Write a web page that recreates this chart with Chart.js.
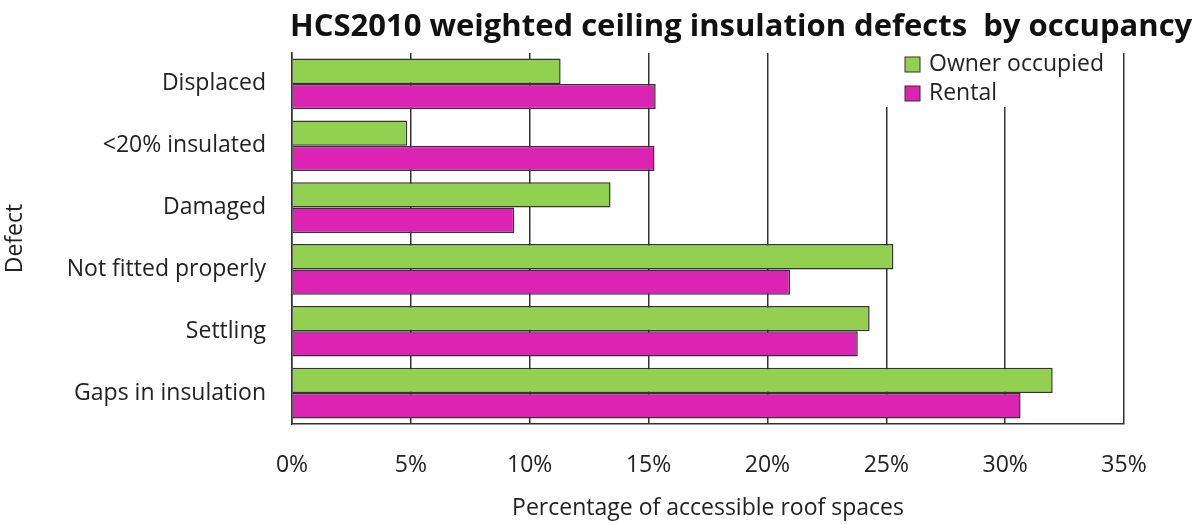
<!DOCTYPE html>
<html>
<head>
<meta charset="utf-8">
<script src="https://cdn.jsdelivr.net/npm/chart.js@4"></script>
<style>
  html, body { margin: 0; padding: 0; background: #fff; }
  #wrap { width: 1200px; height: 524px; }
</style>
</head>
<body>
<div id="wrap"><canvas id="defects-chart" width="1200" height="524"></canvas></div>
<script>
// Ceiling insulation defects, weighted, split by occupancy

const defects = ["Displaced", "<20% insulated", "Damaged", "Not fitted properly", "Settling", "Gaps in insulation"];
const ownerOccupied = [11.3, 4.85, 13.4, 25.3, 24.3, 32.0];
const rental = [15.3, 15.25, 9.35, 20.95, 23.8, 30.65];
const percentTicks = [0, 5, 10, 15, 20, 25, 30, 35];

const FONT = "'Open Sans', Lato, sans-serif";
const INK = "#222";
const LINE = "#333";

// Title drawn over the plot, right of the category labels
const titlePlugin = {
    id: "plotTitle",
    afterDraw(chart) {
        const c = chart.ctx;
        c.save();
        c.font = "bold 31px " + FONT;
        c.fillStyle = "#111";
        c.textBaseline = "middle";
        c.textAlign = "left";
        c.fillText("HCS2010 weighted ceiling insulation defects  by occupancy", 290, 27);
        c.restore();
    }
};

// Legend sits inside the plot at the top right, on a white patch
const boxLegend = {
    id: "boxLegend",
    afterDraw(chart) {
        const c = chart.ctx;
        const area = chart.chartArea;
        c.save();
        c.fillStyle = "#fff";
        c.fillRect(878, area.top - 2, 240, 56);
        c.font = "23px " + FONT;
        c.textBaseline = "middle";
        c.textAlign = "left";
        chart.data.datasets.forEach((ds, i) => {
            const y = 64 + i * 29;
            c.fillStyle = ds.backgroundColor;
            c.fillRect(905, y - 7, 15, 15);
            c.strokeStyle = LINE;
            c.lineWidth = 1;
            c.strokeRect(905, y - 7, 15, 15);
            c.fillStyle = INK;
            c.fillText(ds.label, 929, y);
        });
        c.restore();
    }
};

new Chart(document.getElementById("defects-chart"), {
    type: "bar",
    data: {
        labels: defects,
        datasets: [
            {
                label: "Owner occupied",
                data: ownerOccupied,
                backgroundColor: "#92d050",
                borderColor: LINE,
                borderWidth: 1.5,
                categoryPercentage: 0.82,
                barPercentage: 1.0,
            },
            {
                label: "Rental",
                data: rental,
                backgroundColor: "#dc23b3",
                borderColor: LINE,
                borderWidth: 1.5,
                categoryPercentage: 0.82,
                barPercentage: 1.0,
            },
        ],
    },
    options: {
        indexAxis: "y",
        responsive: false,
        animation: false,
        layout: { padding: { left: 0, right: 76, top: 53, bottom: 0 } },
        plugins: {
            legend: { display: false },
            title: { display: false },
            tooltip: { enabled: false },
        },
        scales: {
            x: {
                min: 0,
                max: 35,
                afterBuildTicks: (scale) => {
                    scale.ticks = percentTicks.map((v) => ({ value: v }));
                },
                afterFit: (scale) => { scale.height = 100; },
                ticks: {
                    callback: (v) => v + "%",
                    color: INK,
                    font: { family: FONT, size: 23 },
                    padding: 28,
                    maxRotation: 0,
                },
                grid: { color: LINE, lineWidth: 1.5, drawTicks: false },
                border: { color: LINE, width: 1.5 },
                title: {
                    display: true,
                    text: "Percentage of accessible roof spaces",
                    color: INK,
                    font: { family: FONT, size: 23 },
                    padding: { top: 6, bottom: 2 },
                },
            },
            y: {
                afterFit: (scale) => { scale.width = 292; },
                ticks: {
                    color: INK,
                    font: { family: FONT, size: 23 },
                    padding: 26,
                },
                grid: { display: false, drawTicks: false },
                border: { color: LINE, width: 1.5 },
                title: {
                    display: true,
                    text: "Defect",
                    color: INK,
                    font: { family: FONT, size: 23 },
                    padding: { top: 2, bottom: 0 },
                },
            },
        },
    },
    plugins: [titlePlugin, boxLegend],
});
</script>
</body>
</html>
